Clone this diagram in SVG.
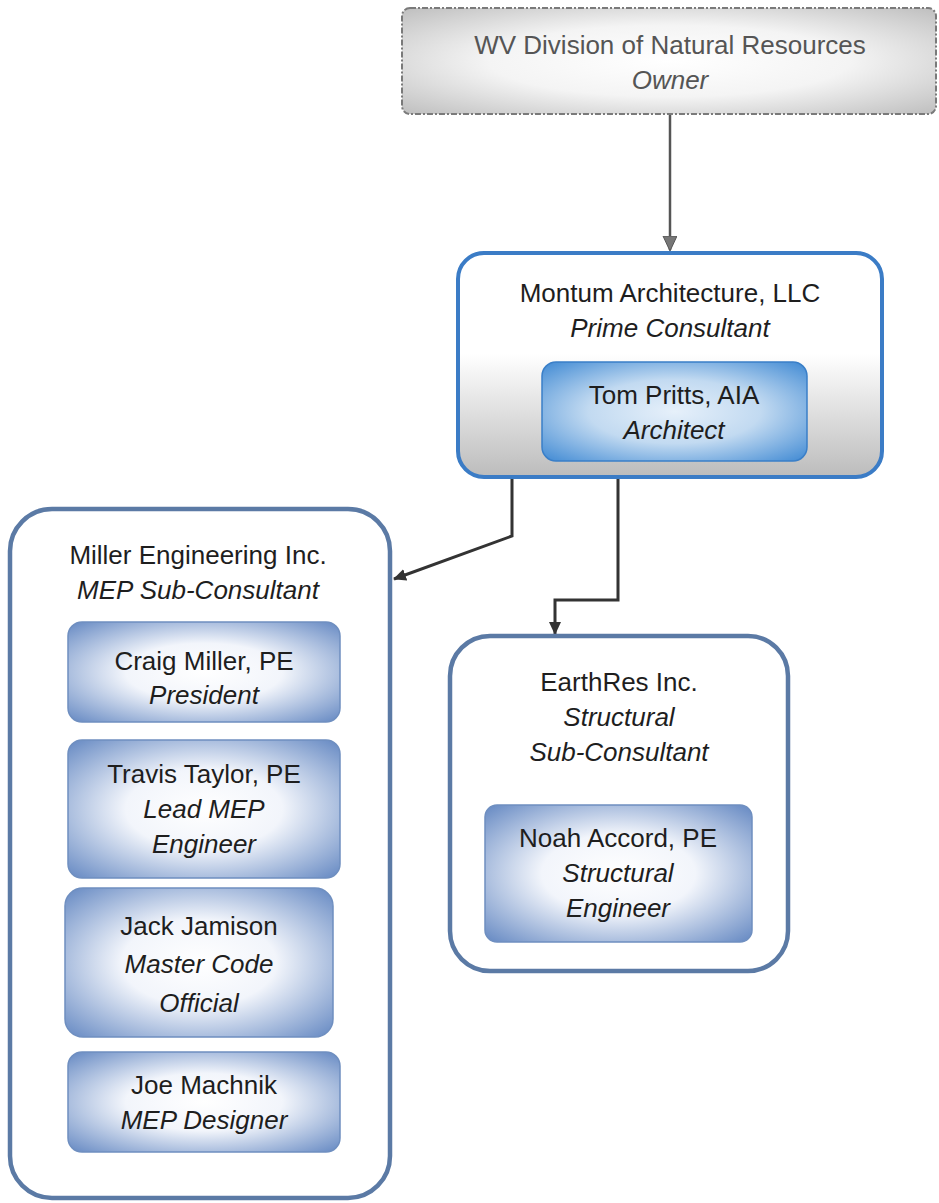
<svg xmlns="http://www.w3.org/2000/svg" width="939" height="1203" viewBox="0 0 939 1203">
<style>
  text { font-family: "Liberation Sans", Arial, sans-serif; font-size: 26px; fill: #1e1e1e; text-anchor: middle; }
  .it { font-style: italic; }
  .gray { fill: #555; }
  .sub { fill: #fff; stroke: #5b7aa5; stroke-width: 4.5; }
  .person { fill: url(#personGrad); stroke: #6f8fc0; stroke-width: 1.5; }
  .conn { fill: none; stroke: #333; stroke-width: 3; }
</style>
<defs>
  <radialGradient id="ownerGrad" cx="0.5" cy="0.5" r="0.75">
    <stop offset="0" stop-color="#ffffff"/>
    <stop offset="0.45" stop-color="#f4f4f4"/>
    <stop offset="1" stop-color="#b8b8b8"/>
  </radialGradient>
  <linearGradient id="primeGrad" x1="0" y1="0" x2="0" y2="1">
    <stop offset="0" stop-color="#ffffff"/>
    <stop offset="0.45" stop-color="#ffffff"/>
    <stop offset="1" stop-color="#bcbcbc"/>
  </linearGradient>
  <radialGradient id="personGrad" cx="0.5" cy="0.5" r="0.72">
    <stop offset="0" stop-color="#ffffff"/>
    <stop offset="0.4" stop-color="#f2f5fb"/>
    <stop offset="1" stop-color="#5f84c0"/>
  </radialGradient>
  <radialGradient id="archGrad" cx="0.5" cy="0.5" r="0.72">
    <stop offset="0" stop-color="#e6f0fa"/>
    <stop offset="0.45" stop-color="#c2daf1"/>
    <stop offset="1" stop-color="#3a86d2"/>
  </radialGradient>
  <marker id="arrDark" markerWidth="14" markerHeight="14" refX="12" refY="6" orient="auto" markerUnits="userSpaceOnUse">
    <path d="M0,0 L13,6 L0,12 Z" fill="#333"/>
  </marker>
  <marker id="arrGray" markerWidth="16" markerHeight="16" refX="14" refY="7" orient="auto" markerUnits="userSpaceOnUse">
    <path d="M0,0 L15,7 L0,14 Z" fill="#777" stroke="#555" stroke-width="1"/>
  </marker>
</defs>

<g id="connectors">
  <path id="c-owner-prime" d="M670,114 L670,250" fill="none" stroke="#555" stroke-width="2.5" marker-end="url(#arrGray)"/>
  <path id="c-prime-miller" class="conn" d="M512,479 L512,536 L394,579" marker-end="url(#arrDark)"/>
  <path id="c-prime-earthres" class="conn" d="M618,479 L618,600 L555,600 L555,634" marker-end="url(#arrDark)"/>
</g>

<g id="owner">
  <rect x="402" y="8" width="534" height="106" rx="8" fill="url(#ownerGrad)" stroke="#7a7a7a" stroke-width="2" stroke-dasharray="6 2 2 2"/>
  <text x="670" y="54" class="gray">WV Division of Natural Resources</text>
  <text x="670" y="89" class="it gray">Owner</text>
</g>

<g id="prime">
  <rect x="458" y="253" width="424" height="224" rx="26" fill="url(#primeGrad)" stroke="#3b7cc6" stroke-width="4"/>
  <text x="670" y="302">Montum Architecture, LLC</text>
  <text x="670" y="337" class="it">Prime Consultant</text>
  <g id="architect">
    <rect x="542" y="362" width="265" height="99" rx="14" fill="url(#archGrad)" stroke="#3a7fc8" stroke-width="1.5"/>
    <text x="674" y="404">Tom Pritts, AIA</text>
    <text x="674" y="439" class="it">Architect</text>
  </g>
</g>

<g id="miller">
  <rect x="10" y="509" width="380" height="689" rx="42" class="sub"/>
  <text x="198" y="564">Miller Engineering Inc.</text>
  <text x="198" y="599" class="it">MEP Sub-Consultant</text>
  <g id="craig">
    <rect x="68" y="622" width="272" height="100" rx="14" class="person"/>
    <text x="204" y="670">Craig Miller, PE</text>
    <text x="204" y="704" class="it">President</text>
  </g>
  <g id="travis">
    <rect x="68" y="740" width="272" height="138" rx="14" class="person"/>
    <text x="204" y="783">Travis Taylor, PE</text>
    <text x="204" y="818" class="it">Lead MEP</text>
    <text x="204" y="853" class="it">Engineer</text>
  </g>
  <g id="jack">
    <rect x="65" y="888" width="268" height="149" rx="18" class="person"/>
    <text x="199" y="935">Jack Jamison</text>
    <text x="199" y="973" class="it">Master Code</text>
    <text x="199" y="1012" class="it">Official</text>
  </g>
  <g id="joe">
    <rect x="68" y="1052" width="272" height="100" rx="14" class="person"/>
    <text x="204" y="1094">Joe Machnik</text>
    <text x="204" y="1129" class="it">MEP Designer</text>
  </g>
</g>

<g id="earthres">
  <rect x="450" y="636" width="338" height="335" rx="40" class="sub"/>
  <text x="619" y="691">EarthRes Inc.</text>
  <text x="619" y="726" class="it">Structural</text>
  <text x="619" y="761" class="it">Sub-Consultant</text>
  <g id="noah">
    <rect x="485" y="805" width="267" height="137" rx="12" class="person"/>
    <text x="618" y="847">Noah Accord, PE</text>
    <text x="618" y="882" class="it">Structural</text>
    <text x="618" y="917" class="it">Engineer</text>
  </g>
</g>
</svg>
